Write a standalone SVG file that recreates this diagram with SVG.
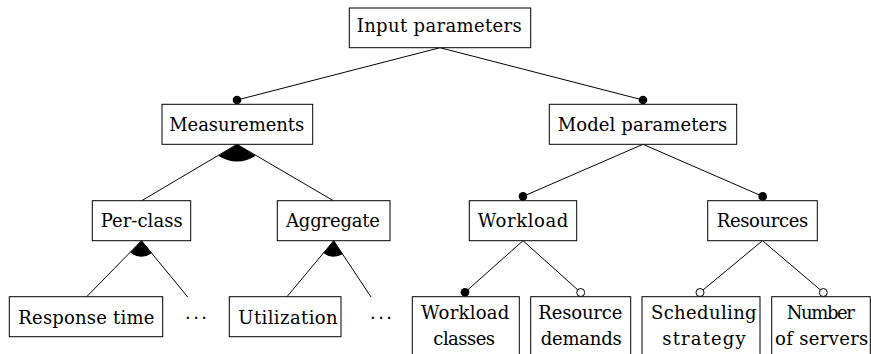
<svg xmlns="http://www.w3.org/2000/svg" width="871" height="354" viewBox="0 0 871 354">
  <style>
    .box { fill: #ffffff; stroke: #000000; stroke-width: 1; }
    .edge { fill: none; stroke: #000000; stroke-width: 1; }
    .lbl { font-family: 'DejaVu Serif', 'Liberation Serif', 'Noto Serif', serif; font-size: 18px; fill: #000000; text-anchor: middle; }
    .full { fill: #000000; stroke: none; }
    .open { fill: #ffffff; stroke: #000000; stroke-width: 1; }
    .sector { fill: #000000; stroke: none; }
  </style>
  <rect width="871" height="354" fill="#ffffff"/>

  <!-- connectors -->
  <g id="connectors">
    <line class="edge" x1="440" y1="47.7" x2="237" y2="100"/>
    <line class="edge" x1="440" y1="47.7" x2="643" y2="100"/>
    <line class="edge" x1="237" y1="144.3" x2="141.7" y2="200.7"/>
    <line class="edge" x1="237" y1="144.3" x2="333.3" y2="200.7"/>
    <line class="edge" x1="141.5" y1="240.7" x2="86.7" y2="296.7"/>
    <line class="edge" x1="141.5" y1="240.7" x2="187.7" y2="297"/>
    <line class="edge" x1="333.7" y1="240.7" x2="287" y2="296.7"/>
    <line class="edge" x1="333.7" y1="240.7" x2="371" y2="297"/>
    <line class="edge" x1="643" y1="144.3" x2="523" y2="196.4"/>
    <line class="edge" x1="643" y1="144.3" x2="762.7" y2="196.4"/>
    <line class="edge" x1="523" y1="240.7" x2="465" y2="292.3"/>
    <line class="edge" x1="523" y1="240.7" x2="577.8" y2="289.9"/>
    <line class="edge" x1="762.5" y1="240.7" x2="703" y2="290"/>
    <line class="edge" x1="762.5" y1="240.7" x2="820.4" y2="289.9"/>
    <!-- group arcs -->
    <path class="sector" d="M237 144.3 L218.4 155.7 A33 33 0 0 0 255.6 155.7 Z"/>
    <path class="sector" d="M141.5 240.7 L130.3 252.2 A16 16 0 0 0 151.7 253.1 Z"/>
    <path class="sector" d="M333.7 240.7 L323.5 253 A16 16 0 0 0 342.6 254 Z"/>
    <!-- mandatory / optional markers -->
    <circle class="full" cx="237" cy="100" r="4.3"/>
    <circle class="full" cx="643" cy="100" r="4.3"/>
    <circle class="full" cx="523" cy="196.4" r="4.3"/>
    <circle class="full" cx="762.7" cy="196.4" r="4.3"/>
    <circle class="full" cx="465" cy="292.3" r="4.3"/>
    <circle class="open" cx="580.7" cy="292.5" r="4"/>
    <circle class="open" cx="700" cy="292.5" r="4"/>
    <circle class="open" cx="823.3" cy="292.5" r="4"/>
  </g>

  <g id="input-parameters">
    <rect class="box" x="349.3" y="8" width="181.4" height="39.7"/>
    <text class="lbl" x="439.2" y="31.7" textLength="165" lengthAdjust="spacing">Input parameters</text>
  </g>
  <g id="measurements">
    <rect class="box" x="162" y="104.3" width="150.7" height="40"/>
    <text class="lbl" x="236.7" y="130.5" textLength="135" lengthAdjust="spacing">Measurements</text>
  </g>
  <g id="model-parameters">
    <rect class="box" x="549.3" y="104.3" width="187.4" height="40"/>
    <text class="lbl" x="642.5" y="130.5" textLength="169.6" lengthAdjust="spacing">Model parameters</text>
  </g>
  <g id="per-class">
    <rect class="box" x="92.3" y="200.7" width="98.4" height="40"/>
    <text class="lbl" x="141.7" y="227.3" textLength="82" lengthAdjust="spacing">Per-class</text>
  </g>
  <g id="aggregate">
    <rect class="box" x="277.3" y="200.7" width="112.7" height="40"/>
    <text class="lbl" x="333" y="227.3" textLength="94" lengthAdjust="spacing">Aggregate</text>
  </g>
  <g id="workload">
    <rect class="box" x="469.3" y="200.7" width="107.4" height="40"/>
    <text class="lbl" x="523" y="227.3" textLength="90.6" lengthAdjust="spacing">Workload</text>
  </g>
  <g id="resources">
    <rect class="box" x="707.7" y="200.7" width="109.6" height="40"/>
    <text class="lbl" x="762.5" y="227.3" textLength="91.6" lengthAdjust="spacing">Resources</text>
  </g>
  <g id="response-time">
    <rect class="box" x="9.3" y="296.7" width="153.4" height="40"/>
    <text class="lbl" x="86.3" y="324" textLength="136" lengthAdjust="spacing">Response time</text>
  </g>
  <g id="per-class-more">
    <text class="lbl" x="196" y="324" textLength="22" lengthAdjust="spacing">· · ·</text>
  </g>
  <g id="utilization">
    <rect class="box" x="229.3" y="296.7" width="111.7" height="40"/>
    <text class="lbl" x="288" y="324" textLength="99.4" lengthAdjust="spacing">Utilization</text>
  </g>
  <g id="aggregate-more">
    <text class="lbl" x="381" y="324" textLength="22" lengthAdjust="spacing">· · ·</text>
  </g>
  <g id="workload-classes">
    <rect class="box" x="412.3" y="296.7" width="107" height="70"/>
    <text class="lbl" x="465.2" y="319.3" textLength="88.3" lengthAdjust="spacing">Workload</text>
    <text class="lbl" x="464.2" y="345" textLength="61.7" lengthAdjust="spacing">classes</text>
  </g>
  <g id="resource-demands">
    <rect class="box" x="530.7" y="296.7" width="100" height="70"/>
    <text class="lbl" x="580.3" y="319.3" textLength="84" lengthAdjust="spacing">Resource</text>
    <text class="lbl" x="581.2" y="345" textLength="81" lengthAdjust="spacing">demands</text>
  </g>
  <g id="scheduling-strategy">
    <rect class="box" x="642" y="296.7" width="118" height="70"/>
    <text class="lbl" x="703.8" y="319.3" textLength="105.7" lengthAdjust="spacing">Scheduling</text>
    <text class="lbl" x="704" y="344.5" textLength="83.4" lengthAdjust="spacing">strategy</text>
  </g>
  <g id="number-of-servers">
    <rect class="box" x="771.7" y="296.7" width="98.6" height="70"/>
    <text class="lbl" x="820.8" y="319.3" textLength="68.3" lengthAdjust="spacing">Number</text>
    <text class="lbl" x="821.7" y="345" textLength="93.3" lengthAdjust="spacing">of servers</text>
  </g>
</svg>
